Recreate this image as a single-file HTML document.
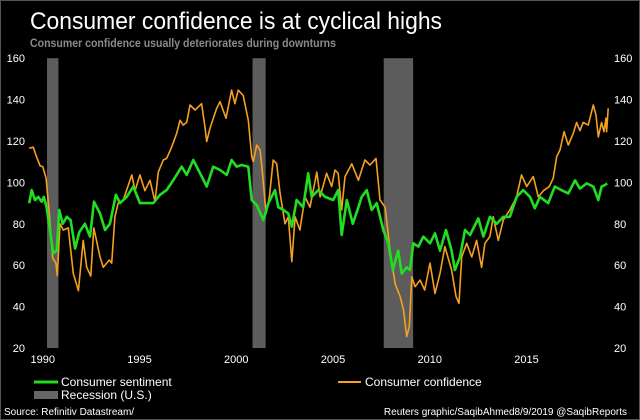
<!DOCTYPE html>
<html><head><meta charset="utf-8"><style>
html,body{margin:0;padding:0;background:#000;}
svg{display:block;font-family:"Liberation Sans",Arial,sans-serif;}
</style></head><body>
<svg id="chart" width="640" height="420" viewBox="0 0 640 420">
<rect x="0" y="0" width="640" height="420" fill="#000"/>
<rect x="0.5" y="0.5" width="639" height="419" fill="none" stroke="#555" stroke-width="1"/>
<text x="30" y="29" fill="#fff" font-size="24" textLength="412" lengthAdjust="spacingAndGlyphs">Consumer confidence is at cyclical highs</text>
<text x="30" y="47" fill="#8a8a8a" font-size="11.5" font-weight="bold" textLength="306" lengthAdjust="spacingAndGlyphs">Consumer confidence usually deteriorates during downturns</text>
<g id="recessions"></g>
<g id="yleft"></g>
<g id="yright"></g>
<g id="xaxis"></g>
<g id="lines"></g>
<g>
<line x1="34" y1="382" x2="58" y2="382" stroke="#22dd22" stroke-width="3"/>
<text x="61" y="386" fill="#fff" font-size="12">Consumer sentiment</text>
<rect x="34" y="391" width="24" height="8" fill="#666"/>
<text x="61" y="399" fill="#fff" font-size="12">Recession (U.S.)</text>
<line x1="338" y1="382" x2="361" y2="382" stroke="#f5a020" stroke-width="2"/>
<text x="365" y="386" fill="#fff" font-size="12">Consumer confidence</text>
</g>
<text x="4" y="415" fill="#fff" font-size="10">Source: Refinitiv Datastream/</text>
<text x="627" y="415" fill="#fff" font-size="10" text-anchor="end">Reuters graphic/SaqibAhmed8/9/2019 @SaqibReports</text>
</svg>
<script>
const yTicks = [20,40,60,80,100,120,140,160];
const xTicks = [1990,1995,2000,2005,2010,2015];
const recStart = [1990.58, 2001.2, 2007.98];
const recEnd = [1991.17, 2001.88, 2009.5];
const confYears = [1989.66,1989.87,1990.05,1990.22,1990.36,1990.53,1990.7,1990.87,1991.04,1991.11,1991.25,1991.42,1991.68,1991.94,1992.2,1992.45,1992.63,1992.84,1993.0,1993.32,1993.49,1993.8,1993.92,1994.09,1994.26,1994.52,1994.96,1995.13,1995.38,1995.64,1995.9,1996.16,1996.33,1996.59,1996.76,1997.02,1997.28,1997.45,1997.62,1997.8,1997.97,1998.23,1998.57,1998.74,1998.83,1999.0,1999.35,1999.52,1999.83,2000.12,2000.29,2000.46,2000.72,2000.98,2001.16,2001.24,2001.42,2001.59,2001.73,2001.9,2002.07,2002.27,2002.45,2002.62,2002.88,2003.05,2003.23,2003.4,2003.65,2003.91,2004.17,2004.52,2004.69,2005.03,2005.29,2005.46,2005.63,2005.81,2005.98,2006.33,2006.67,2007.01,2007.27,2007.58,2007.79,2008.05,2008.31,2008.57,2008.83,2009.0,2009.17,2009.3,2009.43,2009.6,2009.86,2010.1,2010.37,2010.63,2010.89,2011.14,2011.49,2011.72,2011.87,2012.01,2012.27,2012.53,2012.78,2013.04,2013.21,2013.47,2013.64,2013.9,2014.16,2014.5,2014.85,2015.1,2015.37,2015.71,2015.97,2016.23,2016.54,2016.74,2016.92,2017.09,2017.3,2017.52,2017.78,2017.95,2018.12,2018.29,2018.55,2018.81,2018.95,2019.07,2019.24,2019.36,2019.47,2019.5,2019.58];
const confValues = [116.5,117,112,108,107.6,102,85,63.5,61,55,80,77,78,56,47.7,72,59,54.8,78,64,59,62.5,61,83.4,90,91.5,103.6,96,103.6,96,101,90.7,105,110.8,111.6,117,123.7,130,127.7,129,137.4,135,138,127,119.7,126,135.8,139,131,144.6,138,144.6,142,130,112.4,110,118,115.7,102.8,85,93,110.8,109,95,80,83.4,61.7,83.4,77,93,88,105,93,104.4,98,106,104.4,86.7,102.8,109,101,110.8,108.4,111.6,91.5,88,67,51,44.8,38.4,25.5,30.3,54.4,49.6,52.8,48,61,46.4,56,69,57.7,44.8,41.6,64,70.6,64,72,59,70.6,73.8,83.4,72,81.8,86.7,93,103.6,98,102.8,93,96,98,102,112.4,115.7,124.5,118,123.7,129,125,129,127.7,137.4,132.5,122,129,124.5,131,124.5,135.8];
const sentYears = [1989.66,1989.79,1989.96,1990.13,1990.3,1990.42,1990.56,1990.73,1990.9,1991.08,1991.21,1991.39,1991.6,1991.8,1992.03,1992.25,1992.54,1992.8,1993.01,1993.32,1993.58,1993.83,1994.14,1994.35,1994.7,1995.04,1995.38,1995.73,1996.07,1996.42,1996.76,1997.1,1997.54,1997.8,1998.14,1998.49,1998.83,1999.17,1999.52,1999.87,2000.12,2000.38,2000.64,2000.98,2001.16,2001.42,2001.76,2002.02,2002.36,2002.53,2002.79,2003.05,2003.23,2003.48,2003.82,2004.08,2004.26,2004.6,2004.95,2005.37,2005.63,2005.81,2006.07,2006.38,2006.67,2006.84,2007.1,2007.36,2007.62,2007.96,2008.22,2008.45,2008.73,2008.91,2009.17,2009.34,2009.51,2009.77,2010.03,2010.37,2010.63,2010.89,2011.2,2011.49,2011.66,2011.92,2012.18,2012.44,2012.87,2013.13,2013.47,2013.82,2014.16,2014.5,2014.85,2015.19,2015.54,2015.79,2016.05,2016.48,2016.82,2017.16,2017.52,2017.87,2018.12,2018.47,2018.81,2019.07,2019.24,2019.41,2019.53];
const sentValues = [89.9,96.3,91.5,93,90.7,93,88,77,65.7,67,86.7,80,83.4,81.8,68,76,80,73.8,90.7,85,77,80,94,90,93,98,90,90,90,94,96.3,101,107.6,103.6,110.8,104.4,98,107.6,106,103.6,110.8,107.6,108.4,107.6,91.5,89,81.8,90,96.3,88,86.7,85,78.6,91.5,88,104.4,93,96.3,93,91.5,96.3,74.6,91.5,80,88,93,96.3,86.7,90,77,70.6,57.7,67,56,59,57.7,70.6,69,73.8,70.6,75.4,67,77,67,57.7,64,77,74.6,82.6,73.8,83.4,80,83.4,83.4,93,96.3,93,87.5,93,90,98,96.3,94.7,101,97,99.5,98,91.5,98,98.7,99.5];

const NS='http://www.w3.org/2000/svg';
const X0=35.8, PXY=19.35, YB=348, PXV=2.07;
function xScale(yr){return X0+(yr-1990)*PXY;}
function yScale(v){return YB-(v-20)*PXV;}
function mk(tag,attrs,parent){const e=document.createElementNS(NS,tag);for(const k in attrs)e.setAttribute(k,attrs[k]);parent.appendChild(e);return e;}

const rg=document.getElementById('recessions');
recStart.forEach((s,i)=>{
  const r=mk('rect',{x:xScale(s),y:yScale(160),width:xScale(recEnd[i])-xScale(s),height:yScale(20)-yScale(160),fill:'#5c5c5c'},rg);
  
  
});
const yl=document.getElementById('yleft'), yr=document.getElementById('yright');
yTicks.forEach(t=>{
  const a=mk('text',{x:25,y:yScale(t)+4,fill:'#fff','font-size':11,'text-anchor':'end'},yl);a.textContent=t;
  
  
  const b=mk('text',{x:614,y:yScale(t)+4,fill:'#fff','font-size':11},yr);b.textContent=t;
  
  
});
const xg=document.getElementById('xaxis');
xTicks.forEach(t=>{
  const a=mk('text',{x:xScale(t)+7,y:363,fill:'#fff','font-size':11,'text-anchor':'middle'},xg);a.textContent=t;
  
  
});
const lg=document.getElementById('lines');
function pts(xs,vs){return xs.map((x,i)=>xScale(x).toFixed(1)+','+yScale(vs[i]).toFixed(1)).join(' ');}
const conf=mk('polyline',{points:pts(confYears,confValues),fill:'none',stroke:'#f5a020','stroke-width':1.6,'stroke-linejoin':'round'},lg);


const sent=mk('polyline',{points:pts(sentYears,sentValues),fill:'none',stroke:'#22dd22','stroke-width':2.6,'stroke-linejoin':'round'},lg);


</script>
</body></html>
